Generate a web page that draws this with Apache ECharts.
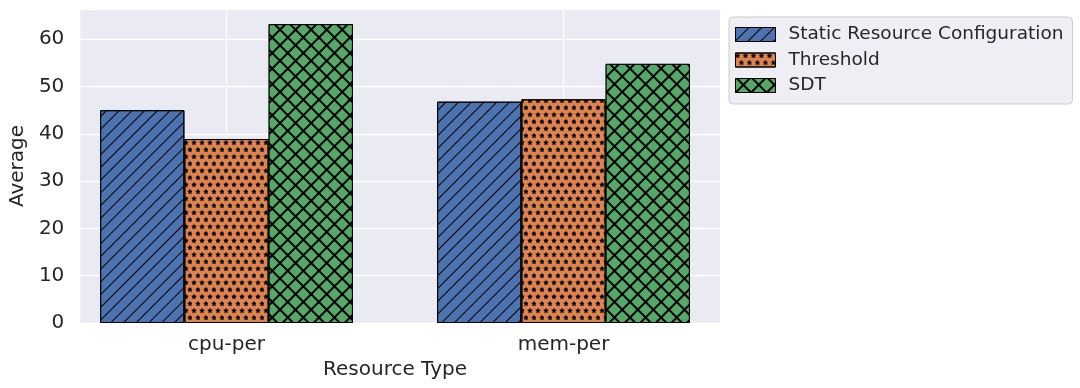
<!DOCTYPE html>
<html>
<head>
<meta charset="utf-8">
<script src="https://cdn.jsdelivr.net/npm/echarts@6/dist/echarts.min.js"></script>
<style>
html,body{margin:0;padding:0;background:#fff;}
#c{width:1080px;height:388px;}
</style>
</head>
<body>
<div id="c"></div>
<script>
const categories = ['cpu-per', 'mem-per'];
const seriesNames = ['Static Resource Configuration', 'Threshold', 'SDT'];
const staticValues = [45.0, 46.8];
const thresholdValues = [38.9, 47.3];
const sdtValues = [63.2, 54.8];
const yMax = 66.4;
const yInterval = 10;

const FONT = 'DejaVu Sans';
const TXT = '#262626';
const starPath = 'path://M50,0 L64.7,29.8 L97.6,34.5 L73.8,57.7 L79.4,90.5 L50,75 L20.6,90.5 L26.2,57.7 L2.4,34.5 L35.3,29.8 Z';

const decals = [
  { symbol: 'rect', symbolSize: 1, color: '#000', backgroundColor: 'rgba(0,0,0,0)',
    dashArrayX: [10, 0], dashArrayY: [1, 8], rotation: -Math.PI / 4 },
  { symbol: starPath, symbolSize: 1.4, symbolKeepAspect: true, color: '#000', backgroundColor: 'rgba(0,0,0,0)',
    dashArrayX: [[4, 4], [0, 4, 4, 0]], dashArrayY: [5, 2, 5, 2] },
  { symbol: 'rect', symbolSize: 1, color: '#55A868', backgroundColor: '#000',
    dashArrayX: [9, 2], dashArrayY: [9, 2], rotation: Math.PI / 4 }
];
const colors = ['#4C72B0', '#DD8452', '#55A868'];
const dataSets = [staticValues, thresholdValues, sdtValues];

const chart = echarts.init(document.getElementById('c'), null, { renderer: 'canvas' });
chart.setOption({
  animation: false,
  textStyle: { fontFamily: FONT, color: TXT },
  grid: [
    { left: 58, width: 674, top: 9, height: 314, containLabel: false },
    { left: 72, width: 648, top: 9, height: 314, show: true, backgroundColor: '#EAEAF2', borderWidth: 0, z: -1 }
  ],
  legend: {
    orient: 'vertical',
    left: 729, top: 17,
    data: seriesNames,
    icon: 'rect',
    itemWidth: 40, itemHeight: 14, itemGap: 6.5,
    padding: [8, 9, 9, 6],
    backgroundColor: '#EEEEF4',
    borderColor: '#CCCCCC', borderWidth: 1, borderRadius: 4,
    textStyle: { fontFamily: FONT, fontSize: 18.5, color: TXT, lineHeight: 18, padding: [0, 0, 0, 8] },
    itemStyle: { borderColor: '#000', borderWidth: 1 }
  },
  xAxis: [
    { type: 'category', gridIndex: 0, data: categories,
      axisLine: { show: false }, axisTick: { show: false, alignWithLabel: true },
      axisLabel: { fontFamily: FONT, fontSize: 20, color: TXT, margin: 12 },
      splitLine: { show: true, alignWithLabel: true, lineStyle: { color: '#fff', width: 1.3 } },
      name: 'Resource Type', nameLocation: 'middle', nameGap: 33,
      nameTextStyle: { fontFamily: FONT, fontSize: 20, color: TXT } },
    { type: 'category', gridIndex: 1, data: categories, show: false }
  ],
  yAxis: [
    { type: 'value', gridIndex: 0, min: 0, max: yMax, interval: yInterval, show: false },
    { type: 'value', gridIndex: 1, min: 0, max: yMax, interval: yInterval,
      axisLine: { show: false }, axisTick: { show: false },
      axisLabel: { fontFamily: FONT, fontSize: 20, color: TXT, margin: 16, showMaxLabel: false },
      splitLine: { show: true, lineStyle: { color: '#fff', width: 1.3 } },
      name: 'Average', nameLocation: 'middle', nameGap: 47,
      nameTextStyle: { fontFamily: FONT, fontSize: 20, color: TXT } }
  ],
  series: seriesNames.map((n, i) => ({
    name: n, type: 'bar', xAxisIndex: 0, yAxisIndex: 0,
    data: dataSets[i],
    barGap: '0%', barCategoryGap: '25%',
    itemStyle: { color: colors[i], borderColor: '#000', borderWidth: 1, decal: decals[i] },
    emphasis: { disabled: true }
  }))
});
</script>
</body>
</html>
